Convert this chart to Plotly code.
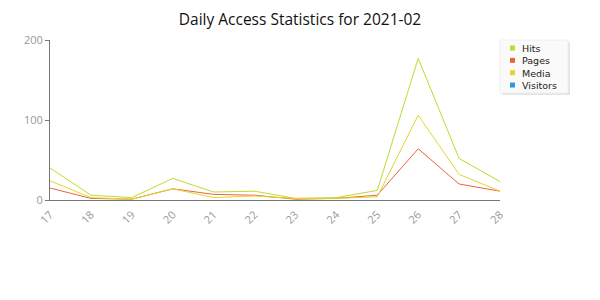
import plotly.graph_objects as go

days = [17, 18, 19, 20, 21, 22, 23, 24, 25, 26, 27, 28]
day_labels = [str(d) for d in days]
hits = [40, 6, 3, 27, 10, 11, 2, 3, 12, 177, 52, 23]
pages = [15, 2, 1, 14, 7, 6, 1, 2, 6, 64, 20, 11]
media = [24, 3, 1, 14, 3, 5, 2, 2, 4, 106, 32, 11]

series_names = ["Hits", "Pages", "Media", "Visitors"]
series_colors = ["#bddc2a", "#e8663a", "#e2d62e", "#2e98e0"]
series_values = [hits, pages, media, None]

W, H = 600, 300
L, R, T, B = 50, 100, 40, 100
PW, PH = W - L - R, H - T - B


def px(x):
    return (x - L) / PW


def py(y):
    return (H - B - y) / PH


fig = go.Figure()
for name, vals, color in zip(series_names, series_values, series_colors):
    if vals is None:
        continue
    fig.add_trace(go.Scatter(x=days, y=vals, mode="lines", name=name,
                             line=dict(color=color, width=1), showlegend=False))

# custom compact legend
LEG_FS = 9.5
line_h = LEG_FS * 1.3
first_row = 48
shapes = []
shapes.append(dict(type="rect", xref="paper", yref="paper", x0=px(502), x1=px(570),
                   y0=py(42), y1=py(95), fillcolor="#e4e4e4", line=dict(width=0), layer="above"))
shapes.append(dict(type="rect", xref="paper", yref="paper", x0=px(500), x1=px(568),
                   y0=py(40), y1=py(93), fillcolor="#fafafa", line=dict(color="#eeeeee", width=1),
                   layer="above"))
for i, color in enumerate(series_colors):
    ry = first_row + i * line_h
    shapes.append(dict(type="rect", xref="paper", yref="paper", x0=px(510), x1=px(515),
                       y0=py(ry - 2.5), y1=py(ry + 2.5), fillcolor=color,
                       line=dict(width=0), layer="above"))
mid = first_row + 1.5 * line_h
annotations = [dict(xref="paper", yref="paper", x=px(521), y=py(mid),
                    text="<br>".join(series_names), showarrow=False,
                    xanchor="left", yanchor="middle", align="left", borderpad=0,
                    font=dict(size=LEG_FS, color="#222", family="DejaVu Sans, sans-serif"))]

fig.update_layout(
    width=W, height=H,
    margin=dict(l=L, r=R, t=T, b=B),
    paper_bgcolor="white", plot_bgcolor="white",
    showlegend=False,
    shapes=shapes, annotations=annotations,
    font=dict(family="Open Sans, Noto Sans, sans-serif", size=11, color="#999"),
    title=dict(text="Daily Access Statistics for 2021-02", x=0.5, xanchor="center",
               y=0.935, yanchor="middle",
               font=dict(size=15.5, color="#111", family="Open Sans, Noto Sans, sans-serif")),
    xaxis=dict(range=[17, 28], tickmode="array", tickvals=days, ticktext=day_labels,
               tickangle=-45, showgrid=False, zeroline=False, showline=True,
               linecolor="#777", linewidth=1, ticks="", ticklabelstandoff=3,
               tickfont=dict(size=11, color="#999")),
    yaxis=dict(range=[0, 200], tickvals=[0, 100, 200], showgrid=False, zeroline=False,
               showline=True, linecolor="#777", linewidth=1, ticks="outside", ticklen=4,
               tickcolor="#777", tickfont=dict(size=11, color="#999")),
)

fig.write_html("out.html")
